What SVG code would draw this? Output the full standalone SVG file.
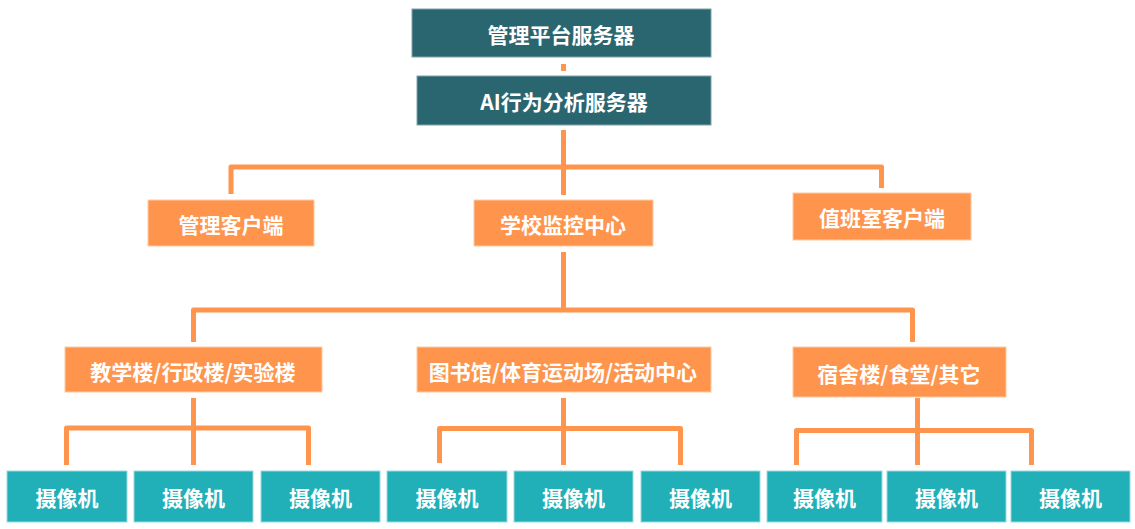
<svg xmlns="http://www.w3.org/2000/svg" width="1135" height="529" viewBox="0 0 1135 529">
<style>
.dark{fill:#2A6670;stroke:#7FA3A9;stroke-width:1}
.org{fill:#FF944D;stroke:#FFC9A3;stroke-width:1}
.cam{fill:#21AFB8;stroke:#9ED8DC;stroke-width:1}
text{font-family:"Noto Sans CJK SC","Noto Sans",sans-serif;font-weight:bold;font-size:21px;fill:#FFFFFF;text-anchor:middle;dominant-baseline:central}
.c{fill:none;stroke:#FF944D;stroke-width:5;stroke-linejoin:round}
</style>
<g id="connectors">
<line class="c" x1="563.5" y1="64" x2="563.5" y2="71"/>
<polyline class="c" points="563.5,130 563.5,195"/>
<polyline class="c" points="231,194 231,167 881.5,167 881.5,188"/>
<polyline class="c" points="563.5,252 563.5,310"/>
<polyline class="c" points="193.5,342 193.5,310 912.5,310 912.5,342"/>
<polyline class="c" points="193.5,398 193.5,465"/>
<polyline class="c" points="66.5,465 66.5,428 308.5,428 308.5,465"/>
<polyline class="c" points="563.5,398 563.5,465"/>
<polyline class="c" points="439.5,463 439.5,428.5 680.5,428.5 680.5,465"/>
<polyline class="c" points="917.5,398 917.5,465"/>
<polyline class="c" points="796.5,465 796.5,430.5 1031.5,430.5 1031.5,465"/>
</g>
<g id="n-mgmt-server"><rect class="dark" x="412" y="9" width="299" height="48"/><text x="561" y="34">管理平台服务器</text></g>
<g id="n-ai-server"><rect class="dark" x="417" y="76" width="294" height="49"/><text x="564" y="101">AI行为分析服务器</text></g>
<g id="n-mgmt-client"><rect class="org" x="148" y="200" width="166" height="46"/><text x="231" y="224">管理客户端</text></g>
<g id="n-monitor"><rect class="org" x="474" y="200" width="179" height="46"/><text x="563" y="224">学校监控中心</text></g>
<g id="n-duty-client"><rect class="org" x="793" y="193" width="178" height="47"/><text x="882" y="217">值班室客户端</text></g>
<g id="n-teach"><rect class="org" x="65" y="347" width="257" height="45"/><text x="193" y="371">教学楼/行政楼/实验楼</text></g>
<g id="n-lib"><rect class="org" x="417" y="347" width="294" height="45"/><text x="563" y="371">图书馆/体育运动场/活动中心</text></g>
<g id="n-dorm"><rect class="org" x="793" y="347" width="213" height="50"/><text x="899" y="373">宿舍楼/食堂/其它</text></g>
<g id="cam1"><rect class="cam" x="7" y="471" width="120" height="51"/><text x="67" y="497">摄像机</text></g>
<g id="cam2"><rect class="cam" x="134" y="471" width="119" height="51"/><text x="193.5" y="497">摄像机</text></g>
<g id="cam3"><rect class="cam" x="261" y="471" width="119" height="51"/><text x="320.5" y="497">摄像机</text></g>
<g id="cam4"><rect class="cam" x="387" y="471" width="120" height="51"/><text x="447" y="497">摄像机</text></g>
<g id="cam5"><rect class="cam" x="514" y="471" width="119" height="51"/><text x="573.5" y="497">摄像机</text></g>
<g id="cam6"><rect class="cam" x="641" y="471" width="119" height="51"/><text x="700.5" y="497">摄像机</text></g>
<g id="cam7"><rect class="cam" x="767" y="471" width="115" height="51"/><text x="824.5" y="497">摄像机</text></g>
<g id="cam8"><rect class="cam" x="887" y="471" width="119" height="51"/><text x="946.5" y="497">摄像机</text></g>
<g id="cam9"><rect class="cam" x="1011" y="471" width="119" height="51"/><text x="1070.5" y="497">摄像机</text></g>
</svg>
